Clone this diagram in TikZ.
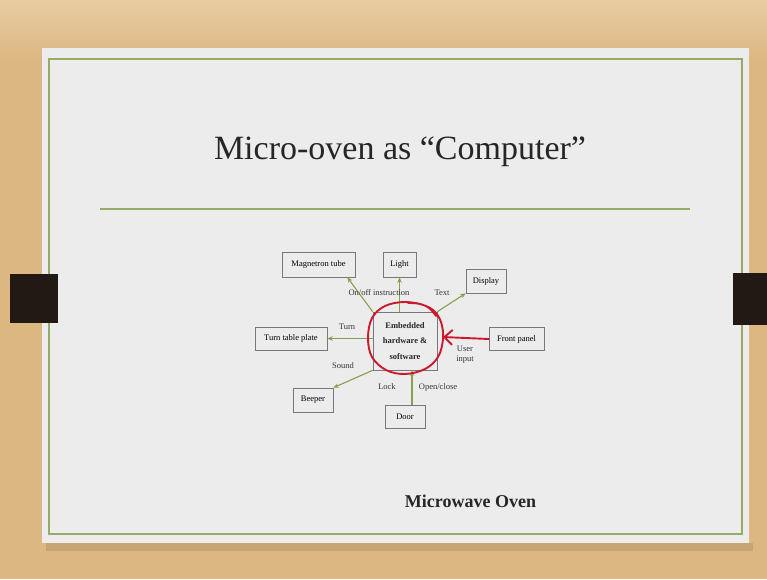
\documentclass[tikz,border=0pt]{standalone}
\usepackage{fontspec}
\setmainfont{Liberation Serif}
\usetikzlibrary{arrows.meta,calc}
\definecolor{wood}{RGB}{221,183,130}
\definecolor{woodlight}{RGB}{232,205,162}
\definecolor{slidebg}{RGB}{236,236,236}
\definecolor{olive}{RGB}{150,172,100}
\definecolor{arrowgreen}{RGB}{135,160,80}
\definecolor{boxgray}{RGB}{120,120,120}
\definecolor{inkred}{RGB}{205,25,45}
\definecolor{tabblack}{RGB}{35,25,20}
\begin{document}
\begin{tikzpicture}[x=1pt,y=-1pt,
  box/.style={draw=boxgray,line width=0.6pt,fill=slidebg,inner sep=0pt,align=center,font=\fontsize{8.5}{10}\selectfont},
  lbl/.style={inner sep=0pt,align=center,font=\fontsize{8.5}{10}\selectfont,text=black!80},
  flow/.style={draw=arrowgreen,line width=1.1pt,-{Stealth[length=5.5pt,width=4.5pt]}},
  redink/.style={draw=inkred,line width=1.9pt,line cap=round,line join=round},
]
\useasboundingbox (0,0) rectangle (767,579);
% background wood
\shade[top color=woodlight, bottom color=wood] (0,0) rectangle (767,60);
\fill[wood] (0,60) rectangle (767,579);
% slide shadow and slide
\fill[black,opacity=0.10] (46,543) rectangle (753,551);
\fill[slidebg] (42,48) rectangle (749,543);
\draw[olive,line width=1.8pt] (49,59) rectangle (742,534);
\draw[olive,line width=1.8pt] (100,209) -- (690,209);
% black tabs
\fill[tabblack] (10,274) rectangle (58,323);
\fill[tabblack] (733,273) rectangle (767,325);
% title
\node[anchor=base,inner sep=0pt,font=\fontsize{34}{40}\selectfont,text=black!85] (title) at (400,159) {Micro-oven as “Computer”};
% boxes
\node[box,minimum width=64pt,minimum height=58pt] (emb) at (405,341) {};
\node[box,minimum width=73pt,minimum height=25pt] (mag) at (318.5,264.5) {Magnetron tube};
\node[box,minimum width=33pt,minimum height=25pt] (light) at (399.5,264.5) {Light};
\node[box,minimum width=40pt,minimum height=24pt] (disp) at (486,281) {Display};
\node[box,minimum width=55pt,minimum height=23pt] (front) at (516.5,339) {Front panel};
\node[box,minimum width=72pt,minimum height=23pt] (turn) at (291,338.5) {Turn table plate};
\node[box,minimum width=40pt,minimum height=24pt] (beep) at (313,400) {Beeper};
\node[box,minimum width=40pt,minimum height=23pt] (door) at (405,416.5) {Door};
\node[inner sep=0pt,align=center,font=\fontsize{8.5}{15.5}\selectfont\bfseries,text=black!85] (embtxt) at (405,341) {Embedded\\hardware \&\\software};
% arrows
\draw[flow] (emb.north west) -- ([xshift=-8pt]mag.south east);
\draw[flow] (light.south |- emb.north) -- (light.south);
\draw[flow] (emb.north east) -- (disp.south west);
\draw[flow] (emb.west |- turn.east) -- (turn.east);
\draw[flow] (emb.south west) -- (beep.north east);
\draw[flow] ([xshift=7pt]door.north) -- ([xshift=7pt]door.north |- emb.south);
% labels
\node[lbl] (l1) at (379,293) {On/off instruction};
\node[lbl] (l2) at (442,293) {Text};
\node[lbl] (l3) at (347,327) {Turn};
\node[lbl] (l4) at (343,366) {Sound};
\node[lbl] (l5) at (387,387) {Lock};
\node[lbl] (l6) at (438,387) {Open/close};
\node[lbl] (l7) at (465,355) {User\\input};
% red hand-drawn circle and arrow
\draw[redink] plot[smooth,tension=0.6] coordinates {(436,316) (426,306) (405,302) (385,306) (372,318) (368,338) (372,357) (386,370) (405,374) (425,369) (438,357) (443,339) (441,322) (433,310) (420,304) (408,303)};
\coordinate (ce) at (443,337);
\draw[redink,-{Straight Barb[length=8pt,width=15pt]}] (front.west) -- (ce);
% caption
\node[anchor=base,inner sep=0pt,font=\fontsize{18}{22}\selectfont\bfseries,text=black!85] (cap) at (470.5,507) {Microwave Oven};
\end{tikzpicture}
\end{document}
